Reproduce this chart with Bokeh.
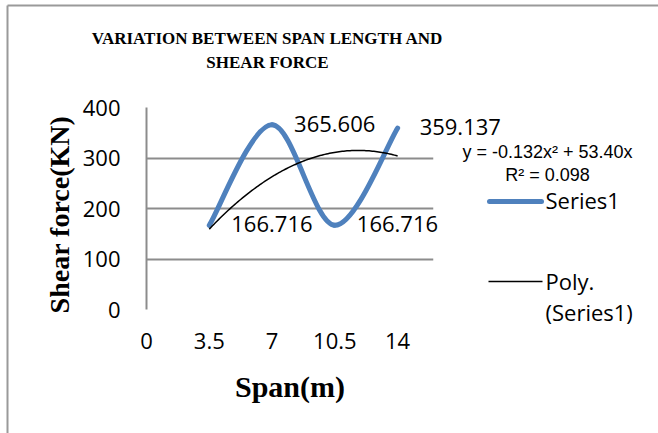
import math
import numpy as np
from bokeh.plotting import figure
from bokeh.models import ColumnDataSource, FixedTicker, Range1d
from bokeh.core.properties import value
from bokeh.embed import file_html
from bokeh.resources import INLINE

# ---- data ----
span = [3.5, 7, 10.5, 14]
shear = [166.716, 365.606, 166.716, 359.137]
x_ticks = [0, 3.5, 7, 10.5, 14]
x_tick_labels = ["0", "3.5", "7", "10.5", "14"]
y_ticks = [0, 100, 200, 300, 400]
title_lines = ["VARIATION BETWEEN SPAN LENGTH AND", "SHEAR FORCE"]
eq_lines = ["y = -0.132x\u00b2 + 53.40x", "R\u00b2 = 0.098"]
legend_labels = ["Series1", "Poly.", "(Series1)"]
x_title = "Span(m)"
y_title = "Shear force(KN)"

BLUE = "#4F81BD"
GRID = "#8C8C8C"
SANS = "Open Sans"
SERIF = "Liberation Serif"

# ---- layout geometry (pixels) ----
W, H = 658, 433
FL, FT, FW, FH = 146, 107, 287, 202
X_END, Y_END = 16, 400


def dx(px):
    """canvas pixel x -> data x (for positioning annotations outside the plot area)"""
    return (px - FL) / FW * X_END


def dy(py):
    """canvas pixel y -> data y"""
    return (FT + FH - py) / FH * Y_END


p = figure(width=W, height=H, output_backend="svg", toolbar_location=None,
           x_range=Range1d(0, X_END), y_range=Range1d(0, Y_END),
           min_border_left=FL, min_border_right=W - FL - FW,
           min_border_top=FT, min_border_bottom=H - FT - FH)
p.outline_line_color = None
p.background_fill_color = "white"
p.border_fill_color = "white"

# ---- chart-area border (top and left edges visible) ----
p.segment(x0=[dx(7), dx(7)], y0=[dy(5), dy(5)], x1=[dx(7), dx(W + 5)], y1=[dy(H + 5), dy(5)],
          line_color="#9A9A9A", line_width=2, level="overlay")

# ---- smoothed series (Catmull-Rom bezier through the data points) ----
xs = np.array(span, dtype=float)
ys = np.array(shear, dtype=float)
n = len(xs)
x0, y0, x1, y1, cx0, cy0, cx1, cy1 = ([] for _ in range(8))
for i in range(n - 1):
    pm = (xs[max(i - 1, 0)], ys[max(i - 1, 0)])
    pa = (xs[i], ys[i])
    pb = (xs[i + 1], ys[i + 1])
    pn = (xs[min(i + 2, n - 1)], ys[min(i + 2, n - 1)])
    x0.append(pa[0]); y0.append(pa[1]); x1.append(pb[0]); y1.append(pb[1])
    cx0.append(pa[0] + (pb[0] - pm[0]) / 6); cy0.append(pa[1] + (pb[1] - pm[1]) / 6)
    cx1.append(pb[0] - (pn[0] - pa[0]) / 6); cy1.append(pb[1] - (pn[1] - pa[1]) / 6)
bez_src = ColumnDataSource(dict(x0=x0, y0=y0, x1=x1, y1=y1, cx0=cx0, cy0=cy0, cx1=cx1, cy1=cy1))
p.bezier(x0="x0", y0="y0", x1="x1", y1="y1", cx0="cx0", cy0="cy0",
         cx1="cx1", cy1="cy1", source=bez_src, line_color=BLUE,
         line_width=5, line_cap="round", line_join="round")

# ---- polynomial trend line (order 2, zero intercept, least squares) ----
A = np.column_stack([xs ** 2, xs])
coef, *_ = np.linalg.lstsq(A, ys, rcond=None)
tx = np.linspace(xs.min(), xs.max(), 120)
ty = coef[0] * tx ** 2 + coef[1] * tx
p.line(tx, ty, line_color="black", line_width=1.5)

# ---- data labels (overlay level so they are not clipped to the plot area) ----
lab_src = ColumnDataSource(dict(x=span, y=shear, t=[f"{v:.3f}" for v in shear]))
p.text(x="x", y="y", text="t", source=lab_src, x_offset=22, y_offset=-1,
       text_baseline="middle", text_align="left", text_font=value(SANS),
       text_font_size="22px", text_color="black", level="overlay")

# ---- chart title (two centred lines) ----
p.text(x=[dx(267), dx(267)], y=[dy(38), dy(62)], text=title_lines, text_align="center",
       text_baseline="middle", text_font=value(SERIF), text_font_style="bold",
       text_font_size="17px", text_color="black", level="overlay")

# ---- y axis title (rotated) ----
p.text(x=[dx(59)], y=[dy(214)], text=[y_title], angle=math.pi / 2,
       text_align="center", text_baseline="middle", text_font=value(SERIF),
       text_font_style="bold", text_font_size="28px", text_color="black",
       level="overlay")

# ---- trendline equation ----
p.text(x=[dx(547), dx(547)], y=[dy(151), dy(174)], text=eq_lines, text_align="center",
       text_baseline="middle", text_font=value("Liberation Sans"),
       text_font_size="18px", text_color="black", level="overlay")

# ---- legend (swatches + labels) ----
p.segment(x0=[dx(489)], y0=[dy(201)], x1=[dx(541)], y1=[dy(201)], line_color=BLUE,
          line_width=5, line_cap="round", level="overlay")
p.segment(x0=[dx(488)], y0=[dy(281)], x1=[dx(542)], y1=[dy(281)], line_color="black",
          line_width=1.5, level="overlay")
p.text(x=[dx(545)] * 3, y=[dy(199), dy(280), dy(311)], text=legend_labels,
       text_align="left", text_baseline="middle", text_font=value(SANS),
       text_font_size="22px", text_color="black", level="overlay")

# ---- axes ----
p.xaxis.ticker = FixedTicker(ticks=x_ticks)
p.xaxis.major_label_overrides = {t: l for t, l in zip(x_ticks, x_tick_labels)}
p.xaxis.axis_line_color = None
p.xaxis.major_tick_line_color = None
p.xaxis.minor_tick_line_color = None
p.xaxis.major_label_standoff = 17
p.xaxis.major_label_text_font = SANS
p.xaxis.major_label_text_font_size = "22px"
p.xaxis.major_label_text_color = "black"
p.xaxis.axis_label = x_title
p.xaxis.axis_label_text_font = SERIF
p.xaxis.axis_label_text_font_style = "bold"
p.xaxis.axis_label_text_font_size = "30px"
p.xaxis.axis_label_text_color = "black"
p.xaxis.axis_label_standoff = 18

p.yaxis.ticker = FixedTicker(ticks=y_ticks)
p.yaxis.axis_line_color = GRID
p.yaxis.axis_line_width = 2
p.yaxis.major_tick_line_color = None
p.yaxis.minor_tick_line_color = None
p.yaxis.major_label_standoff = 20
p.yaxis.major_label_text_font = SANS
p.yaxis.major_label_text_font_size = "22px"
p.yaxis.major_label_text_color = "black"

p.xgrid.grid_line_color = None
p.ygrid.ticker = FixedTicker(ticks=y_ticks)
p.ygrid.grid_line_color = GRID
p.ygrid.grid_line_width = 2

open("out.html", "w").write(file_html(p, INLINE))
